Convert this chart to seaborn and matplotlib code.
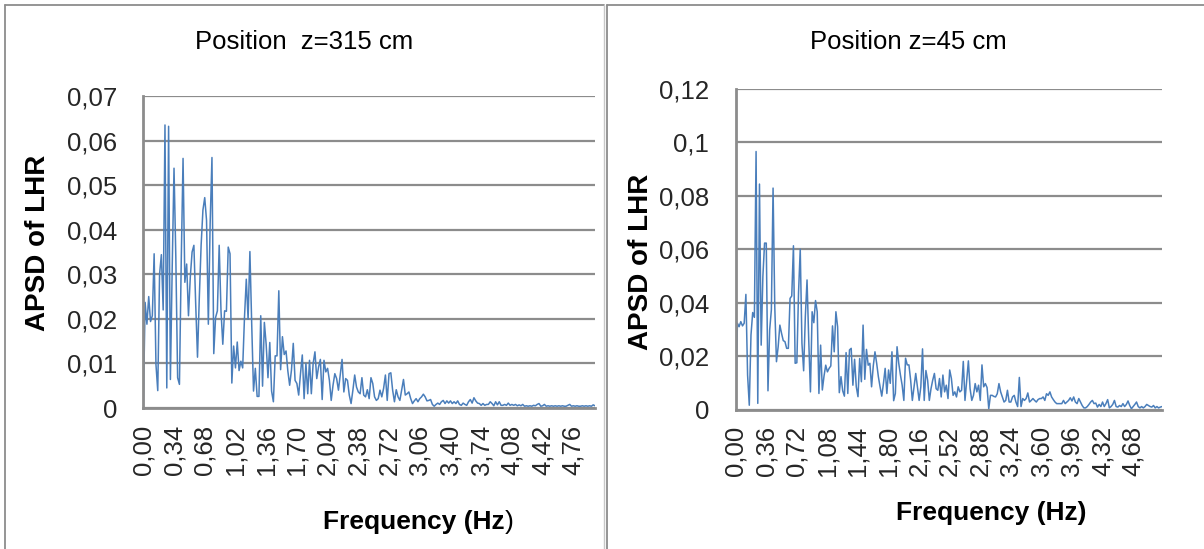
import numpy as np
import pandas as pd
import matplotlib
matplotlib.use("Agg")
import matplotlib.pyplot as plt
from matplotlib.lines import Line2D
import seaborn as sns

# Spectral sampling step of both spectra (Hz)
freq_step = 0.02

# APSD of LHR at position z = 315 cm (values in units of 0.01)
apsd_z315 = [
    0, 2.37, 1.88, 2.5, 1.94, 2.07, 3.46, 0.98, 0.39, 3.0, 3.44, 2.2, 6.35, 0.45, 6.32, 0.64,
    3.16, 5.38, 3.38, 0.68, 0.53, 3.3, 5.6, 2.82, 3.23, 2.07, 2.93, 3.5, 3.65, 2.33, 1.14, 2.48,
    3.65, 4.44, 4.72, 4.21, 1.88, 4.14, 5.62, 1.22, 2.03, 2.18, 3.65, 2.18, 1.43, 2.18, 2.17, 3.61,
    3.46, 0.56, 1.39, 0.9, 1.48, 0.84, 1.05, 0.9, 2.03, 2.89, 1.99, 3.51, 1.88, 0.38, 0.89, 0.26,
    0.26, 2.07, 0.49, 1.92, 1.43, 0.68, 1.47, 0.38, 0.14, 1.17, 1.17, 2.63, 0.86, 1.6, 1.2, 1.28,
    0.83, 0.51,
    0.85, 1.45, 0.62, 0.55, 0.29, 0.77, 1.19, 0.21, 1.0, 0.32, 1.07, 0.32, 1.0, 1.26, 0.66, 0.92,
    1.09, 0.19, 1.07, 0.81, 0.89, 0.62, 0.17, 0.51, 0.77, 0.66, 0.4, 0.74, 1.09, 0.36, 0.66, 0.62,
    0.29, 0.1, 0.4, 0.74, 0.47, 0.36, 0.32, 0.68, 0.29, 0.25, 0.41, 0.21, 0.68, 0.55, 0.25, 0.17,
    0.21, 0.4, 0.25, 0.44, 0.74, 0.17, 0.77, 0.79, 0.4, 0.14, 0.41, 0.25, 0.17, 0.4, 0.64, 0.29,
    0.32, 0.36, 0.21, 0.1, 0.16, 0.21, 0.14, 0.21, 0.25, 0.31, 0.25, 0.16, 0.17, 0.19, 0.08, 0.04,
    0.08, 0.11, 0.08, 0.14, 0.17, 0.1, 0.16, 0.11, 0.16, 0.1, 0.14, 0.1, 0.16, 0.08, 0.06, 0.11,
    0.08, 0.06, 0.14, 0.19, 0.11, 0.23, 0.16, 0.11, 0.1, 0.06, 0.1, 0.06, 0.08, 0.08, 0.14, 0.1,
    0.05, 0.14, 0.07, 0.14, 0.06, 0.06, 0.08, 0.06, 0.11, 0.06, 0.08, 0.06, 0.08, 0.05, 0.07, 0.05,
    0.08, 0.04, 0.05, 0.04, 0.05, 0.04, 0.06, 0.05, 0.08, 0.1, 0.04, 0.05, 0.08, 0.04, 0.05, 0.04,
    0.05, 0.04, 0.05, 0.04, 0.05, 0.04, 0.05, 0.04, 0.04, 0.06, 0.08, 0.04, 0.05, 0.04, 0.05, 0.04,
    0.04, 0.05, 0.04, 0.05, 0.04, 0.05, 0.04, 0.07, 0.05,
]

# APSD of LHR at position z = 45 cm (values in units of 0.01)
apsd_z45 = [
    0, 3.23, 3.1, 3.29, 3.13, 3.23, 4.31, 1.29, 0.16, 2.79, 3.63, 3.45, 9.66, 0.23, 8.44, 2.41,
    4.98, 6.23, 6.23, 0.7, 2.98, 3.73, 8.29, 3.85, 1.79, 2.35, 3.16, 2.85, 2.58, 2.54, 2.29, 2.29,
    4.16, 4.25, 6.13, 1.73, 1.75, 4.38, 6.0, 2.48, 1.45, 3.48, 4.85, 2.6, 0.66, 3.66, 3.25, 4.08,
    3.66, 0.6, 2.41, 0.73, 1.25, 1.66, 1.41, 1.54, 1.63, 3.13, 2.16, 3.66, 3.1, 0.63, 1.23, 0.7,
    0.5, 2.13, 0.6, 2.23, 2.29, 0.91, 1.88, 0.85, 0.48, 1.91, 1.04, 3.16, 1.13, 2.25, 1.66, 1.73,
    0.85, 1.63, 2.16, 1.73, 1.23, 0.85, 0.5, 0.98, 1.54, 0.6, 1.48, 0.98, 2.16, 0.33, 0.6, 2.35,
    1.73,
    1.29, 0.91, 0.34, 1.92, 1.67, 1.67, 1.10, 0.34, 0.85, 1.35, 0.85, 0.34, 0.85, 2.27, 0.34, 1.46,
    1.10, 0.34, 0.78, 1.10, 1.35, 0.78, 0.72, 1.16, 0.47, 1.29, 0.66, 0.91, 0.41, 1.48, 1.16, 0.53,
    0.66, 0.47, 0.85, 0.66, 0.72, 1.80, 0.34, 1.10, 1.82, 0.78, 0.34, 0.53, 0.97, 0.66, 0.91, 0.34,
    1.67, 0.85, 0.97, 0.82, 0.03, 0.53, 0.53, 0.49, 0.47, 0.59, 0.97, 0.66, 0.47, 0.28, 0.34, 0.72,
    0.28, 0.28, 0.47, 0.53, 0.28, 0.11, 1.20, 0.11, 0.41, 0.34, 0.41, 0.62, 0.28, 0.34, 0.41, 0.34,
    0.28, 0.37, 0.41, 0.41, 0.47, 0.34, 0.59, 0.53, 0.66, 0.47, 0.37, 0.28, 0.22, 0.22, 0.22, 0.22,
    0.34, 0.22, 0.28, 0.34, 0.44, 0.32, 0.47, 0.28, 0.22, 0.41, 0.28, 0.15, 0.06, 0.06, 0.11, 0.19,
    0.28, 0.34, 0.22, 0.24, 0.09, 0.19, 0.11, 0.28, 0.11, 0.22, 0.37, 0.06, 0.11, 0.19, 0.34, 0.11,
    0.09, 0.15, 0.11, 0.22, 0.11, 0.19, 0.32, 0.15, 0.03, 0.11, 0.19, 0.28, 0.11, 0.06, 0.11, 0.06,
    0.11, 0.19, 0.15, 0.11, 0.09, 0.15, 0.06, 0.11, 0.06, 0.09, 0.11,
]

panels = [
    dict(title="Position  z=315 cm", values=apsd_z315, ymax=0.07, ystep=0.01, xtick_step=0.34,
         pos=[143.3, 96, 595, 408], title_xy=(304, 42), xlabel_xy=(505, 522),
         xlabel="Frequency (Hz", xlabel_tail=")", ylabel_xy=(38, 243)),
    dict(title="Position z=45 cm", values=apsd_z45, ymax=0.12, ystep=0.02, xtick_step=0.36,
         pos=[735.7, 89, 1162, 409.5], title_xy=(908, 42), xlabel_xy=(1087, 513),
         xlabel="Frequency (Hz)", xlabel_tail="", ylabel_xy=(641, 262)),
]

W, H = 1204, 549
sns.set_theme(style="white")
plt.rcParams["font.family"] = ["Liberation Sans", "DejaVu Sans"]

line_color = "#4A7EBB"
grid_color = "#8C8C8C"
fs = 18.5
fs_label = 19

fig = plt.figure(figsize=(W / 100, H / 100), dpi=100)


def fx(px):
    return px / W


def fy(py):
    return 1 - py / H


def fmt_comma(v, nd):
    return f"{v:.{nd}f}".replace(".", ",")


for p in panels:
    x0, y0, x1, y1 = p["pos"]
    ax = fig.add_axes([fx(x0), fy(y1), fx(x1) - fx(x0), (y1 - y0) / H])
    vals = np.array(p["values"]) * 0.01
    freq = np.round(np.arange(len(vals)) * freq_step, 2)
    df = pd.DataFrame({"Frequency": freq, "APSD": vals})
    sns.lineplot(data=df, x="Frequency", y="APSD", ax=ax, color=line_color, linewidth=1.1)

    ax.set_xlim(0, freq[-1])
    ax.set_ylim(0, p["ymax"])
    nyt = int(round(p["ymax"] / p["ystep"]))
    yt = [i * p["ystep"] for i in range(nyt + 1)]
    ax.set_yticks(yt)
    ylabels = []
    for v in yt:
        if v == 0:
            ylabels.append("0")
        else:
            ylabels.append(f"{v:.2f}".rstrip("0").replace(".", ","))
    ax.set_yticklabels(ylabels, fontsize=fs)
    nxt = int(np.floor(freq[-1] / p["xtick_step"] + 1e-9))
    xt = [i * p["xtick_step"] for i in range(nxt + 1)]
    ax.set_xticks(xt)
    ax.set_xticklabels([fmt_comma(v, 2) for v in xt], rotation=90, fontsize=fs)
    ax.tick_params(axis="y", length=0, pad=19)
    ax.tick_params(axis="x", length=0, pad=12)

    ax.grid(axis="y", color=grid_color, linewidth=1.6)
    ax.set_axisbelow(True)
    for side in ["top", "right"]:
        ax.spines[side].set_visible(False)
    for side in ["left", "bottom"]:
        ax.spines[side].set_color(grid_color)
        ax.spines[side].set_linewidth(2.0)
    ax.set_xlabel("")
    ax.set_ylabel("")

    fig.text(fx(p["title_xy"][0]), fy(p["title_xy"][1]), p["title"], ha="center", va="center",
             fontsize=fs, color="black")
    fig.text(fx(p["ylabel_xy"][0]), fy(p["ylabel_xy"][1]), "APSD of LHR", ha="center",
             va="center", rotation=90, fontsize=20, fontweight="bold", color="black")
    # axis title: bold part ends at the anchor, an optional regular-weight tail follows
    fig.text(fx(p["xlabel_xy"][0]), fy(p["xlabel_xy"][1]), p["xlabel"], ha="right", va="center",
             fontsize=fs_label, fontweight="bold", color="black")
    if p["xlabel_tail"]:
        fig.text(fx(p["xlabel_xy"][0]), fy(p["xlabel_xy"][1]), p["xlabel_tail"], ha="left",
                 va="center", fontsize=fs_label, color="black")

# Frames around the two chart panels
frame_kw = dict(color="#8C8C8C", linewidth=1.3, transform=fig.transFigure)
fig.add_artist(Line2D([fx(5), fx(5)], [fy(5), 0], **frame_kw))
fig.add_artist(Line2D([fx(5), fx(604)], [fy(5), fy(5)], **frame_kw))
fig.add_artist(Line2D([fx(604), fx(604)], [fy(5), 0], color="#C8C8C8", linewidth=1.0,
                      transform=fig.transFigure))
fig.add_artist(Line2D([fx(607), fx(607)], [fy(5), 0], **frame_kw))
fig.add_artist(Line2D([fx(607), 1], [fy(5), fy(5)], **frame_kw))

fig.savefig("out.png", dpi=100)
